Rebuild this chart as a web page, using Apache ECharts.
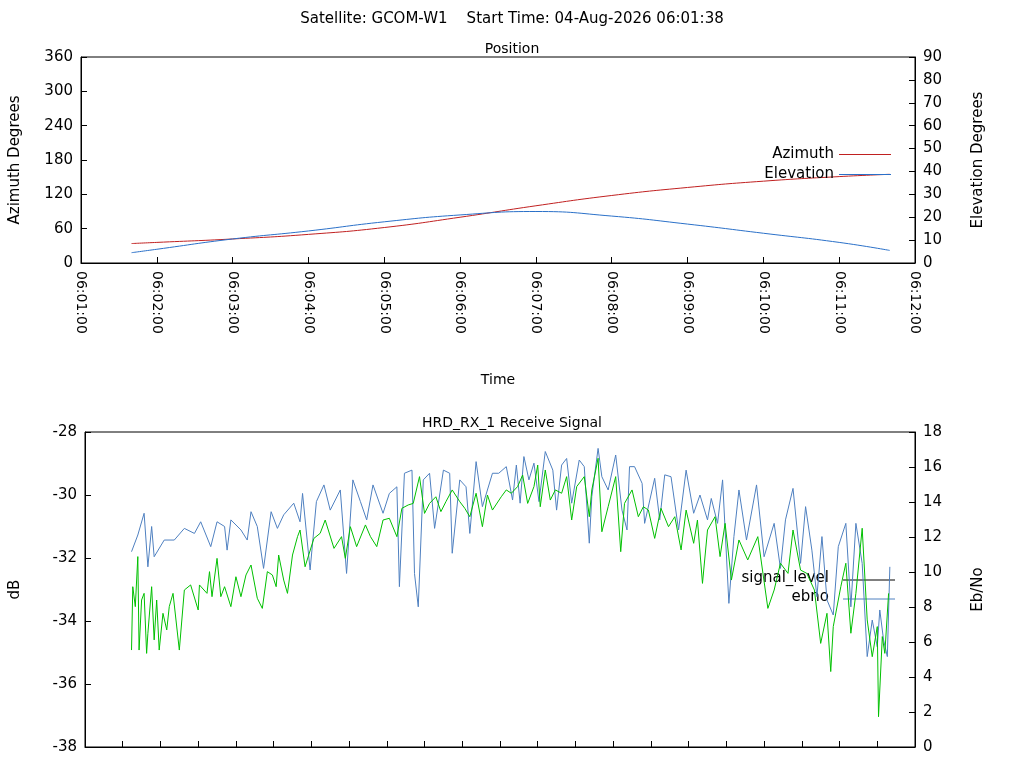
<!DOCTYPE html>
<html>
<head>
<meta charset="utf-8">
<script src="https://cdn.jsdelivr.net/npm/echarts@6/dist/echarts.min.js"></script>
<style>html,body{margin:0;background:#fff}#main{width:1024px;height:768px}</style>
</head>
<body>
<div id="main"></div>
<script>
// time values are seconds after 06:01:00
var posTime = [40, 60, 120, 180, 240, 300, 360, 420, 480, 540, 600, 640]
var azimuth = [34, 36, 42, 50, 62, 80, 100, 118, 132, 143, 151, 155]
var elevation = [4.5, 6, 10.5, 14, 18, 21, 22.5, 20.5, 17, 13, 9, 5.5]

var sigTime = [37, 42, 47, 50, 53, 55, 63, 71, 79, 87, 92, 100, 105, 111, 113, 116, 124, 129, 132, 137, 142, 148, 153, 158, 166, 171, 173, 179, 184, 190, 195, 203, 208, 213, 219, 224, 229, 237, 242, 248, 250, 254, 260, 262, 265, 269, 274, 278, 285, 290, 292, 298, 303, 306, 311, 316, 324, 329,
    335, 340, 343, 346, 349, 353, 357, 361, 366, 372, 375, 379, 383, 387, 393, 397, 401, 403, 408, 411, 416, 422, 427, 431, 433, 437, 443, 445, 453, 457, 461, 466, 472, 478, 484, 489, 495, 498, 503, 507, 512, 516, 520, 526, 534, 540, 548, 553, 557, 563, 569, 573, 578, 582, 586, 590, 595, 599, 605, 609, 613, 618, 622, 626, 630, 632, 635, 638, 640]
var signalLevel = [-31.80, -31.27, -30.58, -32.28, -31.00, -31.96, -31.43, -31.43, -31.06, -31.22, -30.85, -31.64, -30.85, -31.00, -31.75, -30.79, -31.11, -31.43, -30.53, -31.00, -32.33, -30.53, -31.06, -30.63, -30.26, -30.85, -29.95, -32.38, -30.21, -29.68, -30.48, -29.84, -32.49, -29.52, -30.21, -30.79, -29.68, -30.58, -29.95, -29.74, -32.91, -29.31, -29.21, -32.49, -33.55, -29.52, -29.31, -31.06, -29.21, -29.31, -31.85, -29.52, -29.74, -31.22, -28.94, -30.37, -29.31, -29.31,
    -29.10, -30.16, -29.05, -30.26, -28.78, -29.52, -28.99, -30.21, -28.62, -29.21, -30.48, -29.05, -28.84, -30.26, -28.89, -29.10, -31.53, -30.05, -28.52, -29.42, -29.84, -28.73, -30.48, -31.11, -29.10, -29.10, -29.63, -30.90, -29.47, -30.79, -29.36, -29.42, -31.11, -29.21, -30.58, -30.00, -30.79, -30.11, -30.90, -29.52, -33.44, -31.32, -29.84, -31.43, -29.68, -31.96, -30.90, -32.33, -30.79, -29.79, -32.17, -30.37, -31.75, -33.23, -31.32, -33.33, -33.81, -31.64, -30.90, -33.55, -30.90, -32.17, -35.13, -33.97, -34.82, -33.65, -34.60, -35.13, -32.28]

var ebnoTime = [37, 38, 40, 42, 43, 45, 47, 49, 50, 53, 55, 57, 59, 62, 65, 67, 70, 75, 79, 84, 90, 91, 97, 99, 101, 105, 108, 111, 116, 120, 124, 128, 132, 137, 141, 145, 149, 152, 154, 158, 161, 165, 169, 171, 175, 182, 187, 191, 198, 204, 207, 211, 216, 223, 227, 232, 237, 242, 248, 252, 257, 261, 266, 270, 274, 279, 283, 287, 292, 298, 302, 306, 311, 316, 320, 324, 331,
    335, 339, 344, 348, 352, 357, 360, 362, 366, 370, 374, 379, 383, 387, 391, 397, 401, 403, 408, 411, 416, 422, 426, 429, 435, 440, 444, 448, 453, 458, 464, 469, 474, 478, 484, 487, 491, 495, 501, 505, 509, 514, 520, 527, 535, 543, 548, 553, 559, 563, 569, 574, 580, 585, 590, 593, 595, 601, 605, 609, 613, 618, 622, 626, 630, 631, 634, 636, 639]
var ebno = [5.54, 9.16, 8.02, 10.88, 5.54, 8.40, 8.78, 5.35, 6.50, 9.16, 6.12, 8.40, 5.54, 7.64, 6.69, 8.02, 8.78, 5.54, 8.97, 9.26, 7.83, 9.26, 8.78, 10.02, 8.59, 10.78, 8.59, 9.16, 8.02, 9.73, 8.59, 9.83, 10.40, 8.50, 7.92, 10.02, 9.83, 9.16, 10.97, 9.54, 8.78, 10.97, 12.02, 12.40, 10.30, 11.92, 12.21, 12.97, 11.35, 12.02, 10.78, 12.59, 11.45, 12.69, 12.02, 11.45, 12.97, 13.07, 12.02, 13.64, 13.83, 13.92, 15.45, 13.35, 13.92, 14.30, 13.45, 14.02, 14.69, 14.02, 13.64, 13.16, 14.50, 12.59, 14.40, 13.54, 14.30,
    14.69, 14.50, 14.88, 15.54, 13.92, 14.88, 16.11, 13.73, 15.83, 14.11, 14.69, 14.50, 15.45, 12.97, 14.88, 15.45, 13.16, 14.69, 16.50, 12.30, 13.73, 15.45, 11.16, 13.92, 14.69, 13.16, 13.73, 13.54, 11.92, 13.64, 12.59, 13.16, 11.26, 13.54, 11.64, 12.97, 9.35, 12.40, 13.16, 10.88, 12.78, 9.54, 11.83, 10.69, 12.02, 7.92, 8.97, 10.50, 9.92, 12.40, 10.11, 9.92, 8.97, 5.92, 7.64, 4.31, 6.88, 9.16, 10.50, 6.50, 8.78, 12.50, 7.26, 5.16, 6.88, 1.73, 6.31, 5.35, 8.78]

function zip(xs, ys) { return xs.map(function (x, i) { return [x, ys[i]] }) }
function hms(v) {
    var m = 1 + Math.floor(v / 60)
    return '06:' + (m < 10 ? '0' + m : m) + ':00'
}

var txt = { color: '#000', fontFamily: 'DejaVu Sans', fontSize: 13 }
var axisLine = { show: true, lineStyle: { color: '#000' } }
var tick = { inside: true, length: 6, lineStyle: { color: '#000' } }

var myChart = echarts.init(document.getElementById('main'))
myChart.setOption({
    animation: false,
    title: [
        { text: 'Satellite: GCOM-W1    Start Time: 04-Aug-2026 06:01:38', left: 'center', top: 7, textStyle: Object.assign({}, txt, { fontWeight: 'normal', fontSize: 15 }) },
        { text: 'Position', left: 'center', top: 37, textStyle: Object.assign({}, txt, { fontWeight: 'normal', fontSize: 14 }) },
        { text: 'HRD_RX_1 Receive Signal', left: 'center', top: 411, textStyle: Object.assign({}, txt, { fontWeight: 'normal', fontSize: 14 }) }
    ],
    legend: {
        data: ['Azimuth', 'Elevation'], orient: 'vertical', align: 'right',
        right: 128, top: 142, itemWidth: 52, itemHeight: 1, itemGap: 5, icon: 'rect',
        textStyle: Object.assign({}, txt, { fontSize: 15 })
    },
    grid: [
        { left: 80, right: 109, top: 57, height: 206, show: true, borderColor: '#000' },
        { left: 80, right: 109, top: 432, height: 315, show: true, borderColor: '#000' }
    ],
    xAxis: [
        { type: 'value', gridIndex: 0, min: 0, max: 660, interval: 60, name: 'Time', nameLocation: 'middle', nameGap: 110,
          nameTextStyle: Object.assign({}, txt, { fontSize: 14 }), axisLine: axisLine, axisTick: tick, splitLine: { show: false },
          axisLabel: Object.assign({}, txt, { rotate: -90, formatter: hms, margin: 8, fontSize: 14 }) },
        { type: 'value', gridIndex: 1, min: 0, max: 660, interval: 30, axisLine: axisLine, axisTick: tick,
          splitLine: { show: false }, axisLabel: { show: false } }
    ],
    yAxis: [
        { type: 'value', gridIndex: 0, min: 0, max: 360, interval: 60, name: 'Azimuth Degrees', nameLocation: 'middle', nameGap: 58,
          nameTextStyle: Object.assign({}, txt, { fontSize: 15 }), axisLine: axisLine, axisTick: tick, splitLine: { show: false }, axisLabel: Object.assign({}, txt, { fontSize: 15 }) },
        { type: 'value', gridIndex: 0, min: 0, max: 90, interval: 10, position: 'right', name: 'Elevation Degrees', nameLocation: 'middle', nameGap: 56,
          nameRotate: 90, nameTextStyle: Object.assign({}, txt, { fontSize: 15 }), axisLine: axisLine, axisTick: tick, splitLine: { show: false }, axisLabel: Object.assign({}, txt, { fontSize: 15 }) },
        { type: 'value', gridIndex: 1, min: -38, max: -28, interval: 2, name: 'dB', nameLocation: 'middle', nameGap: 62,
          nameTextStyle: Object.assign({}, txt, { fontSize: 15 }), axisLine: axisLine, axisTick: tick, splitLine: { show: false }, axisLabel: Object.assign({}, txt, { fontSize: 15 }) },
        { type: 'value', gridIndex: 1, min: 0, max: 18, interval: 2, position: 'right', name: 'Eb/No', nameLocation: 'middle', nameGap: 56,
          nameRotate: 90, nameTextStyle: Object.assign({}, txt, { fontSize: 15 }), axisLine: axisLine, axisTick: tick, splitLine: { show: false }, axisLabel: Object.assign({}, txt, { fontSize: 15 }) }
    ],
    series: [
        { name: 'Azimuth', type: 'line', xAxisIndex: 0, yAxisIndex: 0, data: zip(posTime, azimuth), smooth: true, showSymbol: false,
          lineStyle: { color: '#c02020', width: 1 }, itemStyle: { color: '#c02020' } },
        { name: 'Elevation', type: 'line', xAxisIndex: 0, yAxisIndex: 1, data: zip(posTime, elevation), smooth: true, showSymbol: false,
          lineStyle: { color: '#2a70c8', width: 1 }, itemStyle: { color: '#2a70c8' } },
        { name: 'signal_level', type: 'line', xAxisIndex: 1, yAxisIndex: 2, data: zip(sigTime, signalLevel), showSymbol: false,
          lineStyle: { color: '#4f80c0', width: 1 } },
        { name: 'ebno', type: 'line', xAxisIndex: 1, yAxisIndex: 3, data: zip(ebnoTime, ebno), showSymbol: false,
          lineStyle: { color: '#00c000', width: 1 } }
    ],
    graphic: [
        { type: 'text', right: 195, top: 571, style: { text: 'signal_level', font: '15px DejaVu Sans', fill: '#000' } },
        { type: 'line', shape: { x1: 843, y1: 580, x2: 895, y2: 580 }, style: { stroke: '#000', lineWidth: 1 } },
        { type: 'text', right: 195, top: 590, style: { text: 'ebno', font: '15px DejaVu Sans', fill: '#000' } },
        { type: 'line', shape: { x1: 843, y1: 599, x2: 895, y2: 599 }, style: { stroke: '#4f80c0', lineWidth: 1 } }
    ]
})
</script>
</body>
</html>
